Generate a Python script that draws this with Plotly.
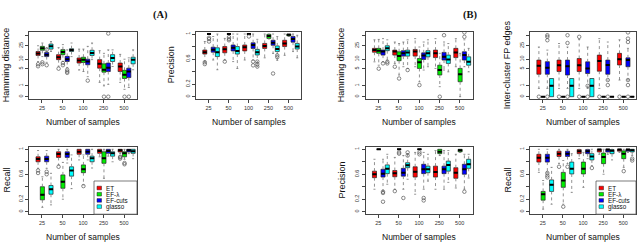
import numpy as np
import plotly.graph_objects as go

W, H = 640, 243
sample_sizes = ["25", "50", "100", "250", "500"]
methods = ["ET", "EF-λ", "EF-cuts", "glasso"]
method_colors = ["#ff0000", "#00ee00", "#0000ff", "#00ffff"]

# each entry per sample size: (lower whisker, q1, median, q3, upper whisker)
# ---- (A) Hamming distance
hamA_ET = [(8.5, 13, 14.8, 17, 25), (6, 9.7, 11.5, 13.7, 22), (4.5, 7.6, 9.2, 10.9, 20), (1.5, 5.2, 7.2, 9.7, 18), (1.5, 4, 5.9, 7.6, 14)]
hamA_EFl = [(12, 18.5, 21, 24, 30), (8.5, 13.7, 16.5, 19.3, 27), (4, 7.9, 9.7, 11.5, 20), (1, 3.8, 4.6, 7.2, 15), (0.6, 2.2, 3.1, 4.4, 10)]
hamA_EFc = [(8, 12, 13.7, 16, 22), (5.5, 8.5, 10, 12.2, 19), (2.6, 6.7, 8.5, 10, 24), (1.2, 4, 5.4, 7.6, 19), (0.8, 2.4, 4, 5.2, 11)]
hamA_gl = [(17, 20, 24, 28, 33), (12, 17, 18.8, 20.5, 30), (9.7, 13, 15.4, 18.5, 30), (5.9, 8.5, 10.9, 13.7, 19), (4.6, 7.2, 9.7, 11.5, 19)]
hamA_out = [(0, 0, 7), (0, 0, 6), (0, 1, 8), (0, 1, 7), (0, 2, 6.5), (0, 2, 19), (1, 0, 5), (1, 1, 7.6),
            (1, 1, 6.5), (1, 2, 4.6), (1, 2, 4), (1, 2, 3.6), (2, 2, 1.8), (3, 1, 0), (3, 2, 0), (3, 2, 56),
            (4, 1, 0), (4, 2, 0)]

# ---- (A) Precision
precA_ET = [(0.56, 0.68, 0.71, 0.745, 0.88), (0.585, 0.70, 0.755, 0.80, 0.93), (0.585, 0.73, 0.79, 0.825, 1.0), (0.62, 0.77, 0.81, 0.85, 1.0), (0.66, 0.80, 0.85, 0.90, 1.0)]
precA_EFl = [(1, 1, 1, 1, 1), (1, 1, 1, 1, 1), (1, 1, 1, 1, 1), (0.92, 0.93, 0.97, 0.995, 1.0), (0.96, 0.97, 0.99, 1.0, 1.0)]
precA_EFc = [(0.585, 0.71, 0.75, 0.79, 0.96), (0.56, 0.73, 0.78, 0.825, 1.0), (0.585, 0.77, 0.825, 0.86, 1.0), (0.69, 0.82, 0.86, 0.90, 1.0), (0.72, 0.87, 0.92, 0.96, 1.0)]
precA_gl = [(0.43, 0.64, 0.71, 0.78, 1.0), (0.45, 0.68, 0.73, 0.80, 1.0), (0.48, 0.665, 0.71, 0.755, 0.915), (0.58, 0.72, 0.76, 0.81, 0.96), (0.62, 0.76, 0.80, 0.85, 0.98)]
precA_out = [(0, 0, 0.55), (0, 0, 0.52), (1, 0, 0.56), (0, 1, 0.94), (0, 1, 0.92), (0, 1, 0.88), (1, 1, 0.95),
             (1, 1, 0.92), (1, 1, 0.9), (2, 1, 0.96), (2, 2, 0.56), (2, 2, 0.5), (3, 2, 0.37), (2, 3, 0.56),
             (2, 3, 0.52), (2, 3, 0.48), (3, 3, 0.66), (3, 3, 0.63)]

# ---- (A) Recall
recA_ET = [(0.695, 0.80, 0.845, 0.88, 0.98), (0.75, 0.87, 0.925, 0.96, 1.0), (0.83, 0.92, 0.96, 1.0, 1.0), (0.88, 0.935, 0.973, 1.0, 1.0), (0.93, 0.957, 0.985, 1.0, 1.0)]
recA_EFl = [(0.07, 0.19, 0.27, 0.40, 0.56), (0.20, 0.375, 0.48, 0.59, 0.79), (0.43, 0.625, 0.68, 0.75, 0.91), (0.535, 0.775, 0.855, 0.96, 1.0), (0.84, 0.88, 0.935, 0.96, 1.0)]
recA_EFc = [(0.695, 0.80, 0.845, 0.89, 0.98), (0.78, 0.87, 0.925, 0.96, 1.0), (0.83, 0.92, 0.96, 1.0, 1.0), (0.89, 0.935, 0.973, 1.0, 1.0), (0.93, 0.957, 0.985, 1.0, 1.0)]
recA_gl = [(0.11, 0.28, 0.36, 0.42, 0.615), (0.37, 0.57, 0.66, 0.72, 0.91), (0.7, 0.80, 0.855, 0.89, 1.0), (0.80, 0.89, 0.935, 0.96, 1.0), (0.85, 0.935, 0.97, 1.0, 1.0)]
recA_out = [(0, 0, 0.66), (0, 0, 0.62), (1, 0, 0.72), (4, 0, 0.88), (4, 0, 0.87), (4, 0, 0.85), (2, 1, 0.41),
            (4, 1, 0.78), (4, 1, 0.76), (0, 2, 0.64), (0, 2, 0.6)]

# ---- (B) Hamming distance
hamB_ET = [(8.3, 16.2, 18.7, 21, 37), (7.4, 13.3, 17, 18.7, 32), (5.8, 12.4, 17, 19.5, 40), (5.1, 11.2, 15, 18.7, 40), (5.8, 11.2, 16, 21, 40)]
hamB_EFl = [(6.5, 15, 18, 21, 38), (3, 9, 12.4, 16.7, 29), (1.6, 5.1, 8, 10.5, 23), (0.9, 3, 4.5, 6.5, 15), (0, 1.6, 3.2, 5.1, 15)]
hamB_EFc = [(8.3, 13.3, 17, 18.7, 40), (5.8, 12.4, 15, 18, 32), (4.5, 9.8, 13, 15.5, 32), (4.5, 9.4, 11.8, 16, 32), (5.8, 9.4, 13.3, 16.7, 37)]
hamB_gl = [(9.4, 18, 21, 25, 37), (5.1, 12.4, 16, 18.7, 37), (5.8, 11.8, 15, 18, 37), (3.9, 7.4, 9.8, 13.3, 29), (3.9, 6.5, 8.3, 11.8, 21)]
hamB_out = [(0, 2, 7.4), (0, 3, 8.3), (0, 3, 7.4), (0, 1, 5), (1, 0, 5.8), (1, 1, 2.2), (1, 3, 4.5),
            (2, 1, 1.1), (3, 1, 0), (3, 2, 50), (4, 2, 60), (4, 2, 45)]

# ---- (B) Inter-cluster FP edges
fpB_ET = [(0.7, 3.2, 6.2, 9.4, 23), (0.7, 4, 6.5, 9.4, 29), (0.7, 4, 6.5, 10.5, 38), (0.7, 4.1, 8.8, 13.3, 40), (1.9, 6.6, 10, 15, 37)]
fpB_EFl = [(0, 0, 0, 0, 0), (0, 0, 0, 0, 0), (0, 0, 0, 0, 0), (0, 0, 0, 0, 0), (0, 0, 0, 0, 0)]
fpB_EFc = [(0.7, 3.2, 5.4, 8.4, 18.7), (0.7, 3, 6, 9.4, 23), (0.7, 3.4, 5.1, 8.3, 23), (1.9, 3.2, 6.6, 9.4, 32), (1.9, 5.8, 9.4, 11, 21)]
fpB_gl = [(0, 0, 1, 2.2, 2.2), (0, 0, 1, 2.2, 2.2), (0, 0, 1, 2.2, 2.2), (0, 0, 0, 0, 0), (0, 0, 0, 0, 0)]
fpB_out = [(0, 0, 0), (0, 2, 0), (0, 2, 50), (0, 2, 45), (0, 2, 36), (1, 0, 0), (1, 2, 0), (1, 2, 50),
           (1, 2, 30), (2, 0, 0), (2, 0, 45), (2, 2, 0), (2, 2, 1), (3, 0, 0), (3, 2, 0), (3, 2, 1.9),
           (3, 2, 1.1), (4, 0, 0), (4, 2, 0), (4, 2, 60), (4, 2, 40), (4, 2, 32), (4, 2, 1.9), (4, 2, 1.1)]

# ---- (B) Precision
precB_ET = [(0.36, 0.545, 0.60, 0.65, 0.84), (0.36, 0.56, 0.615, 0.66, 0.87), (0.28, 0.555, 0.64, 0.72, 0.95), (0.36, 0.555, 0.635, 0.73, 0.98), (0.38, 0.535, 0.625, 0.705, 0.92)]
precB_EFl = [(1, 1, 1, 1, 1), (1, 1, 1, 1, 1), (1, 1, 1, 1, 1), (0.9, 0.93, 0.96, 1, 1), (0.95, 0.96, 0.985, 1, 1)]
precB_EFc = [(0.33, 0.555, 0.61, 0.68, 0.84), (0.36, 0.57, 0.625, 0.695, 0.90), (0.36, 0.61, 0.68, 0.76, 0.95), (0.36, 0.61, 0.68, 0.73, 0.98), (0.36, 0.60, 0.68, 0.76, 0.92)]
precB_gl = [(0.44, 0.61, 0.69, 0.75, 0.92), (0.52, 0.705, 0.745, 0.785, 0.93), (0.49, 0.625, 0.68, 0.73, 0.92), (0.47, 0.65, 0.75, 0.81, 0.98), (0.54, 0.695, 0.76, 0.84, 0.92)]
precB_out = [(0, 2, 0.32), (0, 2, 0.30), (0, 2, 0.16), (1, 0, 0.33), (1, 1, 0.95), (1, 1, 0.93),
             (1, 2, 0.22), (1, 3, 0.9), (1, 3, 0.95), (2, 1, 0.95), (2, 1, 0.92), (2, 2, 0.22),
             (2, 2, 0.18), (4, 2, 0.32)]

# ---- (B) Recall
recB_ET = [(0.63, 0.795, 0.865, 0.92, 1.0), (0.77, 0.885, 0.93, 0.97, 1.0), (0.85, 0.93, 0.97, 0.995, 1.0), (0.92, 0.957, 0.995, 1.0, 1.0), (0.95, 0.97, 0.995, 1.0, 1.0)]
recB_EFl = [(0.04, 0.185, 0.28, 0.325, 0.50), (0.12, 0.39, 0.50, 0.63, 0.82), (0.39, 0.605, 0.69, 0.795, 0.95), (0.6, 0.77, 0.875, 0.94, 1.0), (0.71, 0.85, 0.93, 0.975, 1.0)]
recB_EFc = [(0.63, 0.795, 0.865, 0.92, 1.0), (0.77, 0.885, 0.93, 0.97, 1.0), (0.85, 0.93, 0.97, 0.995, 1.0), (0.92, 0.957, 0.995, 1.0, 1.0), (0.95, 0.97, 0.995, 1.0, 1.0)]
recB_gl = [(0.12, 0.325, 0.43, 0.51, 0.71), (0.31, 0.605, 0.69, 0.795, 0.93), (0.74, 0.83, 0.885, 0.93, 1.0), (0.83, 0.93, 0.975, 0.995, 1.0), (0.9, 0.957, 0.985, 1.0, 1.0)]
recB_out = [(0, 2, 0.62), (0, 2, 0.58), (0, 2, 0.55), (1, 0, 0.72), (1, 2, 0.72), (2, 3, 0.7),
            (4, 3, 0.85), (4, 3, 0.82), (4, 1, 0.65), (1, 1, 0.08)]

log_ticks = [0, 1, 5, 10, 25, 50]
log_ticktext = ["0", "1", "5", "10", "25", ""]
lin_ticks = [0, 0.2, 0.4, 0.6, 0.8, 1]
lin_ticktext = ["0", "0.2", "", "0.6", "", "1"]

# ---------------- layout geometry (pixels) ----------------
TOP = (31.5, 99.2)
BOT = (146.8, 214.2)
panels = [
    dict(title="Hamming distance", stats=[hamA_ET, hamA_EFl, hamA_EFc, hamA_gl], out=hamA_out, log=True, fx=(29, 137), fy=TOP, ytx=6),
    dict(title="Precision", stats=[precA_ET, precA_EFl, precA_EFc, precA_gl], out=precA_out, log=False, fx=(196, 301), fy=TOP, ytx=171),
    dict(title="Recall", stats=[recA_ET, recA_EFl, recA_EFc, recA_gl], out=recA_out, log=False, fx=(29, 137), fy=BOT, ytx=6, legend=(94, 137)),
    dict(title="Hamming distance", stats=[hamB_ET, hamB_EFl, hamB_EFc, hamB_gl], out=hamB_out, log=True, fx=(365.5, 472.5), fy=TOP, ytx=341),
    dict(title="Inter-cluster FP edges", stats=[fpB_ET, fpB_EFl, fpB_EFc, fpB_gl], out=fpB_out, log=True, fx=(530, 636), fy=TOP, ytx=507),
    dict(title="Precision", stats=[precB_ET, precB_EFl, precB_EFc, precB_gl], out=precB_out, log=False, fx=(365.5, 472.5), fy=BOT, ytx=341),
    dict(title="Recall", stats=[recB_ET, recB_EFl, recB_EFc, recB_gl], out=recB_out, log=False, fx=(530, 636), fy=BOT, ytx=507, legend=(596, 636)),
]

XR = [-0.63, 4.63]
BW = 0.2
OFF = [(k - 0.9) * 0.21 for k in range(4)]
FONT = "Liberation Sans, Arial, sans-serif"

fig = go.Figure()
annotations = []
shapes = []


def px(x):
    return x / W


def py(y):
    return 1 - y / H


for i, p in enumerate(panels):
    sx = "" if i == 0 else str(i + 1)
    xa, ya = "x" + sx, "y" + sx
    tf = np.log1p if p["log"] else (lambda v: np.asarray(v, dtype=float))
    for k in range(4):
        st = np.array(p["stats"][k], dtype=float)
        lo, q1, md, q3, hi = [tf(st[:, j]) for j in range(5)]
        pos = np.arange(len(sample_sizes)) + OFF[k]
        # dotted whiskers
        wx, wy, sx_, sy_ = [], [], [], []
        for g in range(len(pos)):
            if hi[g] > q3[g]:
                wx += [pos[g], pos[g], None]; wy += [q3[g], hi[g], None]
                sx_ += [pos[g] - BW / 4, pos[g] + BW / 4, None]; sy_ += [hi[g], hi[g], None]
            if lo[g] < q1[g]:
                wx += [pos[g], pos[g], None]; wy += [q1[g], lo[g], None]
                sx_ += [pos[g] - BW / 4, pos[g] + BW / 4, None]; sy_ += [lo[g], lo[g], None]
        fig.add_trace(go.Scatter(x=wx, y=wy, mode="lines", line=dict(color="#777", width=0.8, dash="dot"),
                                 xaxis=xa, yaxis=ya, showlegend=False, hoverinfo="skip"))
        fig.add_trace(go.Scatter(x=sx_, y=sy_, mode="lines", line=dict(color="#666", width=0.7),
                                 xaxis=xa, yaxis=ya, showlegend=False, hoverinfo="skip"))
        fig.add_trace(go.Box(x=pos, q1=q1, median=md, q3=q3, lowerfence=q1, upperfence=q3, width=BW,
                             fillcolor=method_colors[k], line=dict(color="#222", width=0.7), whiskerwidth=0,
                             boxpoints=False, xaxis=xa, yaxis=ya, showlegend=False, hoverinfo="skip",
                             name=methods[k]))
        mx, my = [], []
        for g in range(len(pos)):
            mx += [pos[g] - BW / 2, pos[g] + BW / 2, None]; my += [md[g], md[g], None]
        fig.add_trace(go.Scatter(x=mx, y=my, mode="lines", line=dict(color="black", width=2),
                                 xaxis=xa, yaxis=ya, showlegend=False, hoverinfo="skip"))
    ox = [g + OFF[k] for g, k, v in p["out"]]
    oy = [float(tf(np.array([v]))[0]) for g, k, v in p["out"]]
    fig.add_trace(go.Scatter(x=ox, y=oy, mode="markers",
                             marker=dict(symbol="circle-open", size=3.5, color="#555", line=dict(width=0.7)),
                             xaxis=xa, yaxis=ya, showlegend=False, hoverinfo="skip"))

    x0, x1 = p["fx"]
    y0, y1 = p["fy"]
    if p["log"]:
        yr = [-0.16, 4.17]
        tv, tt = list(np.log1p(log_ticks)), log_ticktext
    else:
        yr = [-0.04, 1.04]
        tv, tt = lin_ticks, lin_ticktext
    axcommon = dict(showline=True, mirror=True, linecolor="#444", linewidth=0.8, ticks="outside", ticklen=3,
                    tickwidth=0.7, tickcolor="#444", showgrid=False, zeroline=False,
                    tickfont=dict(size=5.5, color="#333", family=FONT))
    fig.update_layout(**{
        ("xaxis" + sx): dict(domain=[px(x0), px(x1)], range=XR, tickvals=list(range(len(sample_sizes))),
                             ticktext=sample_sizes, anchor=ya, **axcommon),
        ("yaxis" + sx): dict(domain=[py(y1), py(y0)], range=yr, tickvals=tv, ticktext=tt, tickangle=-90,
                             anchor=xa, **axcommon),
    })
    # axis titles
    annotations.append(dict(text="Number of samples", x=px((x0 + x1) / 2), y=py(y1 + 22.5), xref="paper",
                            yref="paper", showarrow=False, font=dict(size=8.5, family=FONT, color="#111"),
                            xanchor="center", yanchor="middle"))
    annotations.append(dict(text=p["title"], x=px(p["ytx"]), y=py((y0 + y1) / 2), xref="paper", yref="paper",
                            showarrow=False, textangle=-90, font=dict(size=9, family=FONT, color="#111"),
                            xanchor="center", yanchor="middle"))
    if "legend" in p:
        lx0, lx1 = p["legend"]
        ly0, ly1 = 181, y1
        shapes.append(dict(type="rect", xref="paper", yref="paper", x0=px(lx0), x1=px(lx1), y0=py(ly1),
                           y1=py(ly0), line=dict(color="#444", width=0.7), fillcolor="white", layer="above"))
        for k, m in enumerate(methods):
            cy = 188 + k * 6.2
            shapes.append(dict(type="rect", xref="paper", yref="paper", x0=px(lx0 + 3), x1=px(lx0 + 7.5),
                               y0=py(cy + 1.8), y1=py(cy - 1.8), line=dict(color="#222", width=0.5),
                               fillcolor=method_colors[k], layer="above"))
            annotations.append(dict(text=m, x=px(lx0 + 9.5), y=py(cy), xref="paper", yref="paper",
                                    showarrow=False, xanchor="left", yanchor="middle",
                                    font=dict(size=6.3, family=FONT, color="#111")))

annotations.append(dict(text="<b>(A)</b>", x=px(151), y=py(7), xref="paper", yref="paper", showarrow=False,
                        font=dict(size=10.5, family="Liberation Serif, Times New Roman, serif", color="#111")))
annotations.append(dict(text="<b>(B)</b>", x=px(480), y=py(7), xref="paper", yref="paper", showarrow=False,
                        font=dict(size=10.5, family="Liberation Serif, Times New Roman, serif", color="#111")))

fig.update_layout(width=W, height=H, margin=dict(l=0, r=0, t=0, b=0), paper_bgcolor="white",
                  plot_bgcolor="white", showlegend=False, annotations=annotations, shapes=shapes,
                  boxmode="overlay", font=dict(family=FONT))
fig.write_html("out.html", config={"displayModeBar": False},
               post_script="document.body.style.margin='0px';document.body.style.overflow='hidden';")
